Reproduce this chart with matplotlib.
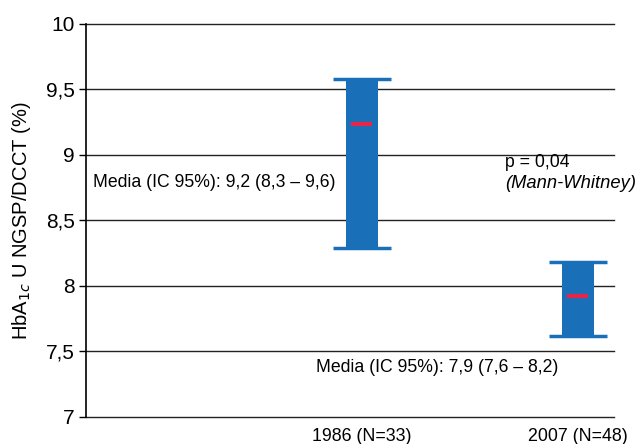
import matplotlib.pyplot as plt

plt.rcParams['font.family'] = ['Liberation Sans', 'DejaVu Sans']

# HbA1c por cohorte: media e IC 95%
grupos = ['1986 (N=33)', '2007 (N=48)']
medias = [9.24, 7.92]
ic_inf = [8.29, 7.62]
ic_sup = [9.58, 8.18]

def fmt(v):
    return ('%.1f' % v).replace('.', ',')

pos = [1, 2]
azul = '#1a70b8'
rojo = '#e5254a'

fig = plt.figure(figsize=(6.4, 4.44), dpi=100)
ax = fig.add_axes([0.134, 0.061, 0.825, 0.885])

for x, m, lo, hi in zip(pos, medias, ic_inf, ic_sup):
    ax.bar(x, hi - lo, bottom=lo, width=0.148, color=azul, zorder=3)
    ax.hlines([lo, hi], x - 0.135, x + 0.135, color=azul, lw=2.5, zorder=3)
    ax.hlines(m, x - 0.048, x + 0.048, color=rojo, lw=3, zorder=4)

ax.set_xlim(-0.278, 2.167)
ax.set_ylim(7, 10)
yt = [7, 7.5, 8, 8.5, 9, 9.5, 10]
ax.set_yticks(yt)
ax.set_yticklabels([('%g' % v).replace('.', ',') for v in yt], fontsize=15)
ax.set_xticks(pos)
ax.set_xticklabels(grupos, fontsize=12.8)
ax.tick_params(axis='x', length=0, pad=8)
ax.tick_params(axis='y', length=5, width=1, pad=3)
for v in yt:
    ax.axhline(v, color='#222222', lw=1, zorder=1, clip_on=False)
for s in ['top', 'right', 'bottom']:
    ax.spines[s].set_visible(False)
ax.spines['left'].set_linewidth(1.2)

ax.set_ylabel('HbA$_{1c}$ U NGSP/DCCT (%)', fontsize=14.5, labelpad=9)

txt = 12.7
ax.text(-0.245, 8.786, 'Media (IC 95%%): %s (%s – %s)' % (fmt(medias[0]), fmt(ic_inf[0]), fmt(ic_sup[0])),
        fontsize=txt, va='center', ha='left')
ax.text(0.787, 7.374, 'Media (IC 95%%): %s (%s – %s)' % (fmt(medias[1]), fmt(ic_inf[1]), fmt(ic_sup[1])),
        fontsize=txt, va='center', ha='left')
ax.text(1.662, 8.94, 'p = 0,04', fontsize=txt, va='center', ha='left')
ax.text(1.662, 8.78, '(Mann-Whitney)', fontsize=13.2, va='center', ha='left', style='italic')

fig.savefig('out.png', dpi=100)
